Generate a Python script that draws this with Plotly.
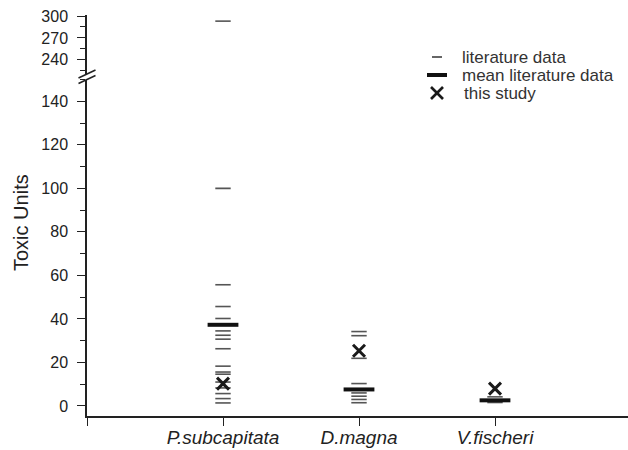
import plotly.graph_objects as go

categories = ["P.subcapitata", "D.magna", "V.fischeri"]
cat_pos = [1, 2, 3]

# literature data (Toxic Units)
lit_psub = [293, 100, 55.7, 45.7, 40.2, 34.5, 32.5, 30.7, 26.3, 18.3, 15.6, 14.6, 11.0, 8.3, 5.7, 3.4, 1.4]
lit_dmag = [34.2, 32.3, 21.9, 10.3, 6.0, 4.5, 3.0, 1.5]
lit_vfis = [4.2, 1.6]
lit_all = [lit_psub, lit_dmag, lit_vfis]

mean_lit = [37.3, 7.6, 2.6]
this_study = [10.3, 25.4, 8.0]

lower_ticks = [0, 20, 40, 60, 80, 100, 120, 140]
upper_ticks = [240, 270, 300]
legend_labels = ["literature data", "mean literature data", "this study"]
BREAK = 200

FONT = "Liberation Sans, Arial, sans-serif"
INK = "#222222"

W, H = 628, 450
ML, MR, MT, MB = 87, 0, 15, 34
PW, PH = W - ML - MR, H - MT - MB


def px(x):
    return (x - ML) / PW


def py(y):
    return (H - MB - y) / PH


fig = go.Figure()

lx_lo, ly_lo, lx_hi, ly_hi = [], [], [], []
for p, vals in zip(cat_pos, lit_all):
    for v in vals:
        if v > BREAK:
            lx_hi.append(p); ly_hi.append(v)
        else:
            lx_lo.append(p); ly_lo.append(v)

lit_marker = dict(symbol="line-ew", size=11, line=dict(width=1.6, color="#555555"))
fig.add_trace(go.Scatter(x=lx_lo, y=ly_lo, mode="markers", marker=lit_marker,
                         name=legend_labels[0], yaxis="y"))
fig.add_trace(go.Scatter(x=lx_hi, y=ly_hi, mode="markers", marker=lit_marker,
                         name=legend_labels[0], yaxis="y2"))
fig.add_trace(go.Scatter(x=cat_pos, y=mean_lit, mode="markers",
                         marker=dict(symbol="line-ew", size=22, line=dict(width=4, color="#111111")),
                         name=legend_labels[1], yaxis="y"))
fig.add_trace(go.Scatter(x=cat_pos, y=this_study, mode="markers",
                         marker=dict(symbol="x-thin", size=12, line=dict(width=3, color="#1a1a1a")),
                         name=legend_labels[2], yaxis="y"))

axis_common = dict(showline=True, linecolor=INK, linewidth=1.5, ticks="outside",
                   ticklen=8, tickwidth=1.3, tickcolor=INK, showgrid=False, zeroline=False,
                   ticklabelstandoff=6, automargin=False,
                   tickfont=dict(family=FONT, size=16, color=INK))

lo_dom = [0, py(79.5)]
hi_dom = [py(74), 1.0]
fig.update_layout(
    width=W, height=H,
    margin=dict(l=ML, r=MR, t=MT, b=MB),
    paper_bgcolor="white", plot_bgcolor="white",
    showlegend=False,
    xaxis=dict(range=[0, PW / 136.0], tickvals=[0] + cat_pos,
               ticktext=[""] + ["<i>%s</i>" % c for c in categories],
               showline=True, linecolor=INK, linewidth=1.5, ticks="outside",
               ticklen=8, tickwidth=1.3, tickcolor=INK, showgrid=False, zeroline=False,
               automargin=False, ticklabelstandoff=-5,
               tickfont=dict(family=FONT, size=19, color=INK), anchor="y"),
    yaxis=dict(domain=lo_dom, range=[-4.6, 150.0], tickvals=lower_ticks,
               minor=dict(dtick=10, tick0=0, ticks="outside", ticklen=5, tickcolor=INK),
               **axis_common),
    yaxis2=dict(domain=hi_dom, range=[220.5, 301.4], tickvals=upper_ticks,
                minor=dict(dtick=15, tick0=240, ticks="outside", ticklen=5, tickcolor=INK),
                anchor="x", **axis_common),
    font=dict(family=FONT),
)

# axis break marks
for yc in [74, 79.5]:
    fig.add_shape(type="line", xref="paper", yref="paper",
                  x0=px(78.5), x1=px(95.5), y0=py(yc + 4), y1=py(yc - 4),
                  line=dict(color=INK, width=1.5))

# manual legend
rows = [57, 75, 93]
sx = 437
fig.add_shape(type="line", xref="paper", yref="paper",
              x0=px(sx - 5), x1=px(sx + 5), y0=py(rows[0]), y1=py(rows[0]),
              line=dict(color="#333333", width=1.5))
fig.add_shape(type="line", xref="paper", yref="paper",
              x0=px(sx - 10), x1=px(sx + 10), y0=py(rows[1]), y1=py(rows[1]),
              line=dict(color="#111111", width=4))
for d in (1, -1):
    fig.add_shape(type="line", xref="paper", yref="paper",
                  x0=px(sx - 6), x1=px(sx + 6), y0=py(rows[2] - 6 * d), y1=py(rows[2] + 6 * d),
                  line=dict(color="#1a1a1a", width=2.6))
for lab, r, dx in zip(legend_labels, rows, [0, 0, 2]):
    fig.add_annotation(text=lab, xref="paper", yref="paper", x=px(460 + dx), y=py(r),
                       xanchor="left", yanchor="middle", showarrow=False,
                       font=dict(family=FONT, size=17, color="#333333"))

fig.add_annotation(text="Toxic Units", xref="paper", yref="paper",
                   x=px(21), y=py(223), xanchor="center", yanchor="middle",
                   textangle=-90, showarrow=False,
                   font=dict(family=FONT, size=20, color=INK))

fig.write_html("out.html")
